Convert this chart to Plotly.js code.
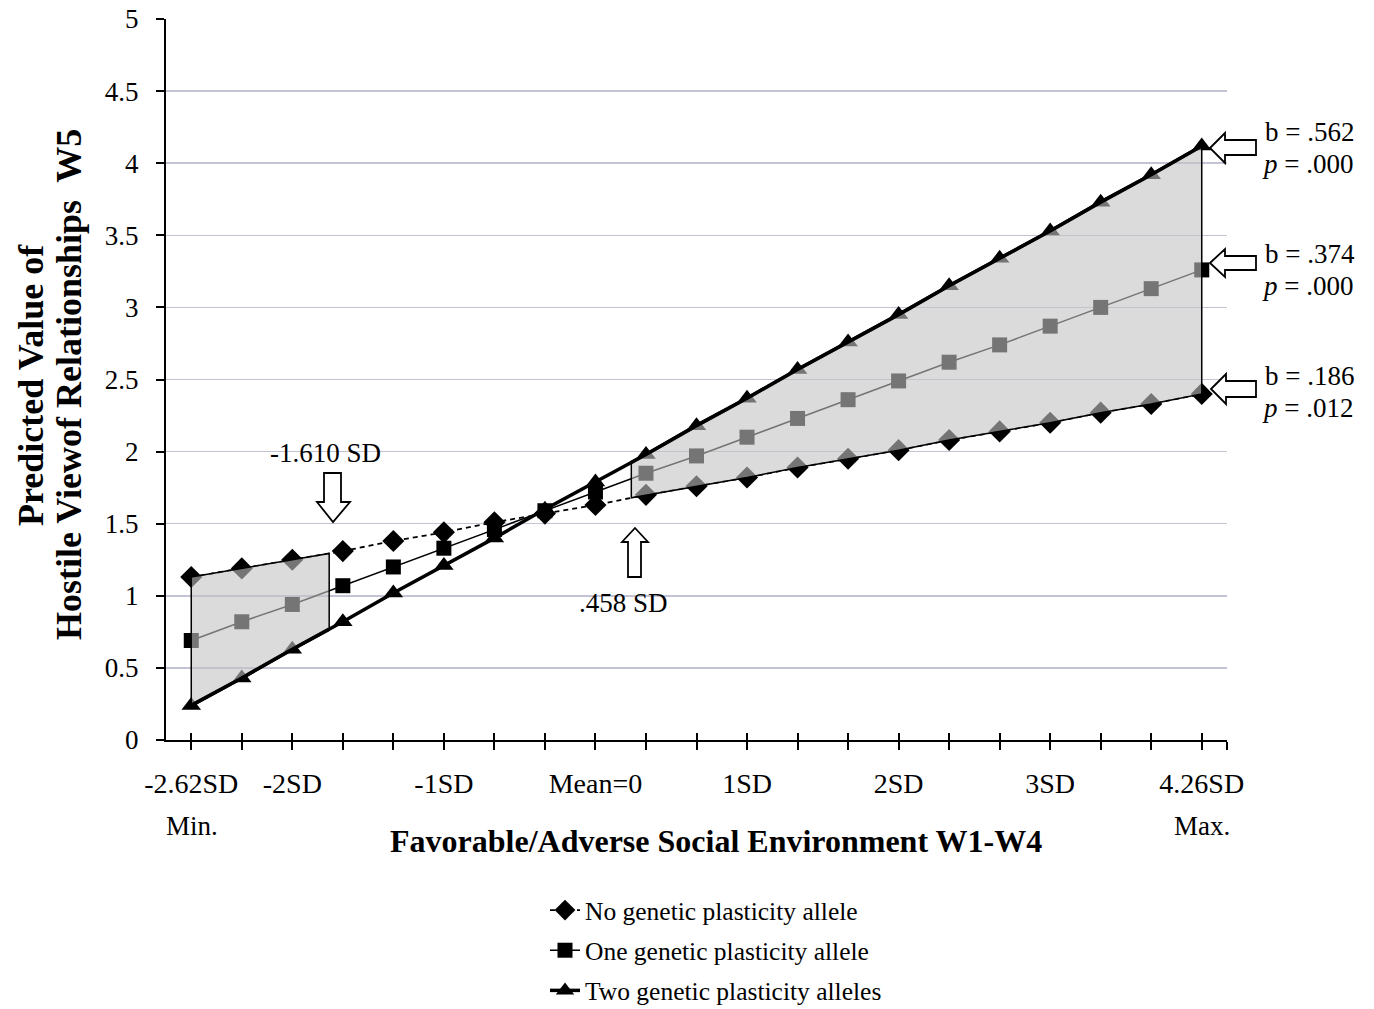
<!DOCTYPE html>
<html>
<head>
<meta charset="utf-8">
<script src="https://cdn.plot.ly/plotly-3.0.1.min.js"></script>
<style>html,body{margin:0;padding:0;background:#fff;}#chart{width:1374px;height:1009px;}</style>
</head>
<body>
<div id="chart"></div>
<script>
// ---- data ----
const xPos = [0,1,2,3,4,5,6,7,8,9,10,11,12,13,14,15,16,17,18,19,20];
const tickLabels = ["-2.62SD","","-2SD","","","-1SD","","","Mean=0","","","1SD","","","2SD","","","3SD","","","4.26SD"];
const noAllele   = [1.13,1.19,1.25,1.31,1.38,1.44,1.51,1.57,1.63,1.70,1.76,1.82,1.89,1.95,2.01,2.08,2.14,2.20,2.27,2.33,2.40];
const oneAllele  = [0.69,0.82,0.94,1.07,1.20,1.33,1.46,1.59,1.72,1.85,1.97,2.10,2.23,2.36,2.49,2.62,2.74,2.87,3.00,3.13,3.26];
const twoAlleles = [0.24,0.43,0.63,0.82,1.02,1.21,1.40,1.60,1.79,1.98,2.18,2.37,2.57,2.76,2.95,3.15,3.34,3.53,3.73,3.92,4.12];
const seriesNames = ["No genetic plasticity allele","One genetic plasticity allele","Two genetic plasticity alleles"];
// regions of significance bounds (in x-index units)
const leftBound = 2.73;
const rightBound = 8.71;

function interp(arr, x){
  const i = Math.floor(x), f = x - i;
  if (i >= arr.length-1) return arr[arr.length-1];
  return arr[i] + (arr[i+1]-arr[i])*f;
}

// ---- pixel helpers for decorations ----
const L=166, R=1227, T=19, B=740;
const px = v => (v-L)/(R-L);
const py = v => (B-v)/(B-T);
function pathPx(pts){
  return 'M' + pts.map(p => px(p[0]).toFixed(5)+','+py(p[1]).toFixed(5)).join(' L') + ' Z';
}

const traces = [];
traces.push({x:xPos, y:noAllele, name:seriesNames[0], legendgroup:'a', type:'scatter', mode:'lines+markers',
  line:{color:'#000', width:1.8, dash:'5px,4px'}, marker:{symbol:'diamond', size:17, color:'#000'}});
traces.push({x:xPos, y:oneAllele, name:seriesNames[1], legendgroup:'b', type:'scatter', mode:'lines+markers',
  line:{color:'#000', width:1.5}, marker:{symbol:'square', size:15, color:'#000'}});
traces.push({x:xPos, y:twoAlleles, name:seriesNames[2], legendgroup:'c', type:'scatter', mode:'lines+markers',
  line:{color:'#000', width:3.5}, marker:{symbol:'triangle-up', size:17, color:'#000'}});

// left shaded region
const lx = [], ly = [];
xPos.filter(v => v < leftBound).forEach(v => { lx.push(v); ly.push(noAllele[v]); });
lx.push(leftBound); ly.push(interp(noAllele, leftBound));
lx.push(leftBound); ly.push(interp(twoAlleles, leftBound));
xPos.filter(v => v < leftBound).reverse().forEach(v => { lx.push(v); ly.push(twoAlleles[v]); });
lx.push(lx[0]); ly.push(ly[0]);
// right shaded region
const rx = [], ry = [];
rx.push(rightBound); ry.push(interp(twoAlleles, rightBound));
xPos.filter(v => v > rightBound).forEach(v => { rx.push(v); ry.push(twoAlleles[v]); });
xPos.filter(v => v > rightBound).reverse().forEach(v => { rx.push(v); ry.push(noAllele[v]); });
rx.push(rightBound); ry.push(interp(noAllele, rightBound));
rx.push(rx[0]); ry.push(ry[0]);

[[lx,ly],[rx,ry]].forEach(([a,b]) => traces.push({x:a, y:b, type:'scatter', mode:'lines', fill:'toself',
  fillcolor:'rgba(195,195,195,0.6)', line:{color:'#000', width:1.5}, showlegend:false, hoverinfo:'skip'}));

// thick edges along the two-allele line
const lex = xPos.filter(v => v < leftBound).concat([leftBound]);
const ley = lex.map(v => interp(twoAlleles, v));
const rex = [rightBound].concat(xPos.filter(v => v > rightBound));
const rey = rex.map(v => interp(twoAlleles, v));
traces.push({x:lex, y:ley, type:'scatter', mode:'lines', line:{color:'#000', width:3.5}, showlegend:false, hoverinfo:'skip'});
traces.push({x:rex, y:rey, type:'scatter', mode:'lines', line:{color:'#000', width:3.5}, showlegend:false, hoverinfo:'skip'});

const serif = 'Liberation Serif, Times New Roman, serif';
const tickv = xPos.concat([20.5]);
const tickt = tickLabels.concat(['']);

// hollow arrows
const arrows = [
  [[324,473],[341,473],[341,502],[350,502],[333,522],[317,502],[324,502]],
  [[635,528],[648,542],[641,542],[641,577],[628,577],[628,542],[622,542]],
  [[1210,148],[1225,133],[1225,140],[1256,140],[1256,155],[1225,155],[1225,163]],
  [[1210,263],[1225,249],[1225,256],[1256,256],[1256,270],[1225,270],[1225,277]],
  [[1211,389],[1226,374],[1226,381],[1256,381],[1256,397],[1226,397],[1226,404]]
];
const shapes = arrows.map(a => ({type:'path', xref:'paper', yref:'paper', path:pathPx(a),
  fillcolor:'#fff', line:{color:'#000', width:1.8}}));

function ann(text, x, y, size, opts){
  return Object.assign({text:text, xref:'paper', yref:'paper', x:px(x), y:py(y), showarrow:false,
    font:{family:serif, size:size, color:'#000'}, xanchor:'center', yanchor:'middle'}, opts||{});
}
const annotations = [
  ann('-1.610 SD', 325, 453, 27),
  ann('.458 SD', 623, 603, 27),
  ann('b = .562', 1263, 132, 27, {xanchor:'left'}),
  ann('<i>p</i> = .000', 1260, 164, 27, {xanchor:'left'}),
  ann('b = .374', 1263, 254, 27, {xanchor:'left'}),
  ann('<i>p</i> = .000', 1260, 286, 27, {xanchor:'left'}),
  ann('b = .186', 1263, 376, 27, {xanchor:'left'}),
  ann('<i>p</i> = .012', 1260, 408, 27, {xanchor:'left'}),
  ann('Min.', 192, 826, 27),
  ann('Max.', 1202, 826, 27),
  ann('<b>Favorable/Adverse Social Environment W1-W4</b>', 716, 841, 32),
  ann('<b>Predicted Value of</b>', 31, 385, 36, {textangle:-90}),
  ann('<b>Hostile Viewof Relationships  W5</b>', 69, 385, 36, {textangle:-90})
];

const layout = {
  width:1374, height:1009,
  margin:{l:L, r:1374-R, t:T, b:1009-B, autoexpand:false},
  paper_bgcolor:'#fff', plot_bgcolor:'#fff',
  font:{family:serif, color:'#000', size:25},
  showlegend:true,
  legend:{x:px(545), y:py(887), xanchor:'left', yanchor:'top', font:{family:serif, size:25.5, color:'#000'},
    bgcolor:'rgba(0,0,0,0)', tracegroupgap:4},
  xaxis:{range:[-0.5,20.5], tickmode:'array', tickvals:tickv, ticktext:tickt,
    ticks:'outside', ticklen:8, tickwidth:2, tickcolor:'#000',
    showline:true, linecolor:'#000', linewidth:2, showgrid:false, zeroline:false,
    tickfont:{family:serif, size:28, color:'#000'}, ticklabelstandoff:9, fixedrange:true},
  xaxis2:{range:[-0.5,20.5], overlaying:'x', anchor:'y', side:'bottom', tickmode:'array', tickvals:tickv,
    ticktext:tickv.map(()=>''), ticks:'inside', ticklen:7, tickwidth:2, tickcolor:'#000',
    showline:false, showgrid:false, zeroline:false, showticklabels:false},
  yaxis:{range:[0,5], tickmode:'linear', tick0:0, dtick:0.5,
    ticks:'outside', ticklen:8, tickwidth:2, tickcolor:'#000',
    showline:true, linecolor:'#000', linewidth:2, showgrid:true, gridcolor:'#c3c3d6', gridwidth:1.5,
    zeroline:false, tickfont:{family:serif, size:27, color:'#000'}, ticklabelstandoff:12},
  shapes:shapes,
  annotations:annotations
};
traces.push({x:[0], y:[0], xaxis:'x2', yaxis:'y', mode:'markers', marker:{opacity:0}, showlegend:false, hoverinfo:'skip'});

Plotly.newPlot('chart', traces, layout, {staticPlot:true});
</script>
</body>
</html>
